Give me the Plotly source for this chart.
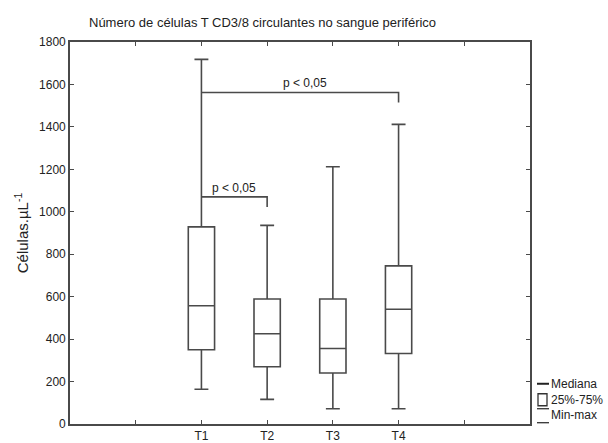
import plotly.graph_objects as go

categories = ["T1", "T2", "T3", "T4"]
minimum = [164, 116, 72, 72]
q1 = [350, 270, 240, 332]
median = [557, 425, 356, 541]
q3 = [929, 589, 589, 745]
maximum = [1718, 936, 1212, 1412]

# significance brackets: (from index, to index, level, drop end, label)
bracket_from = [0, 0]
bracket_to = [1, 3]
bracket_level = [1070, 1562]
bracket_drop = [1023, 1515]
bracket_label = ["p < 0,05", "p < 0,05"]

title_text = "Número de células T CD3/8 circulantes no sangue periférico"
y_title = "Células.µL<sup>-1</sup>"
legend_labels = ["Mediana", "25%-75%", "Min-max"]

LC = "#4a4a4a"
FONT = "Liberation Sans, Arial, sans-serif"
xpos = list(range(len(categories)))

fig = go.Figure()
fig.add_trace(go.Box(
    x=xpos,
    q1=q1, median=median, q3=q3,
    lowerfence=minimum, upperfence=maximum,
    width=0.4, whiskerwidth=0.53,
    fillcolor="rgba(255,255,255,0)",
    line=dict(color=LC, width=1.6),
    boxpoints=False, hoverinfo="skip", showlegend=False,
))

shapes = []
annotations = []
for a, b, lvl, drop in zip(bracket_from, bracket_to, bracket_level, bracket_drop):
    shapes.append(dict(type="path", xref="x", yref="y",
                       path=f"M {a},{lvl} L {b},{lvl} L {b},{drop}",
                       line=dict(color=LC, width=1.6)))
annotations.append(dict(x=0.5, y=1111, xref="x", yref="y", text=bracket_label[0],
                        showarrow=False, font=dict(size=12, color="#222", family=FONT)))
annotations.append(dict(x=1.58, y=1607, xref="x", yref="y", text=bracket_label[1],
                        showarrow=False, font=dict(size=12, color="#222", family=FONT)))

# custom legend (paper coords; plot area is 460 px wide, 382.6 px tall)
W, H = 460.0, 382.6
def px(x):
    return (x - 70) / W
def py(y):
    return (424.3 - y) / H

shapes.append(dict(type="line", xref="paper", yref="paper", x0=px(537), x1=px(549),
                   y0=py(384), y1=py(384), line=dict(color="#222", width=2)))
shapes.append(dict(type="rect", xref="paper", yref="paper", x0=px(538), x1=px(547),
                   y0=py(406), y1=py(394), line=dict(color="#333", width=1.3)))
shapes.append(dict(type="line", xref="paper", yref="paper", x0=px(537), x1=px(549),
                   y0=py(409), y1=py(409), line=dict(color="#333", width=1.3)))
shapes.append(dict(type="line", xref="paper", yref="paper", x0=px(537), x1=px(549),
                   y0=py(423), y1=py(423), line=dict(color="#333", width=1.3)))
for lab, yy in zip(legend_labels, [384, 400, 415]):
    annotations.append(dict(x=px(549), y=py(yy), xref="paper", yref="paper", text=lab,
                            xanchor="left", yanchor="middle", showarrow=False,
                            font=dict(size=12, color="#222", family=FONT)))

annotations.append(dict(x=px(262), y=py(22), xref="paper", yref="paper", text=title_text,
                        showarrow=False, xanchor="center", yanchor="middle",
                        font=dict(size=13, color="#222", family=FONT)))

fig.update_layout(
    width=608, height=443,
    margin=dict(l=70, r=78, t=41.7, b=18.7, autoexpand=False),
    paper_bgcolor="white", plot_bgcolor="white",
    font=dict(family=FONT, size=12, color="#222"),
    shapes=shapes, annotations=annotations,
    showlegend=False,
)
fig.update_xaxes(
    range=[-2, 5],
    tickvals=xpos,
    ticktext=categories,
    ticks="inside", ticklen=4, tickcolor=LC, tickwidth=1,
    minor=dict(tickvals=[-1, 4], ticks="inside", ticklen=4, tickcolor=LC, tickwidth=1),
    showline=True, linecolor=LC, linewidth=1.6, mirror="ticks",
    showgrid=False, zeroline=False, automargin=False,
    ticklabelstandoff=0,
    tickfont=dict(size=12, color="#222"),
)
fig.update_yaxes(
    range=[0, 1800], dtick=200,
    ticks="inside", ticklen=4, tickcolor=LC, tickwidth=1,
    showline=True, linecolor=LC, linewidth=1.6, mirror="ticks",
    showgrid=False, zeroline=False, automargin=False,
    tickfont=dict(size=12, color="#222"),
    title=dict(text=y_title, font=dict(size=15, color="#222"), standoff=7),
)

fig.write_html("out.html", config={"displayModeBar": False},
               post_script="document.body.style.margin='0px';")
